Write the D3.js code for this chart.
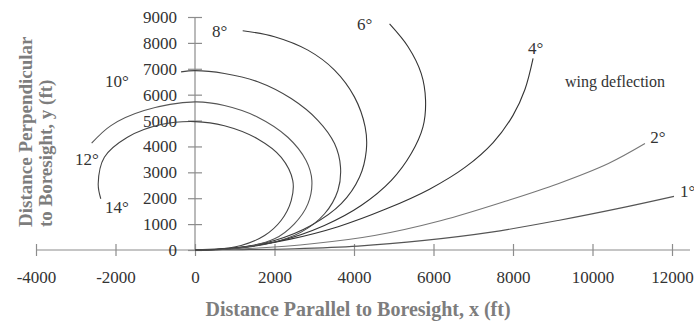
<!DOCTYPE html>
<html>
<head>
<meta charset="utf-8">
<script src="https://cdn.jsdelivr.net/npm/d3@7"></script>
<style>
  html, body { margin: 0; padding: 0; background: #fff; }
  svg { display: block; }
  text { font-family: "Liberation Serif", "Times New Roman", serif; }
</style>
</head>
<body>
<svg id="chart" width="694" height="325"></svg>
<script>
// ---- data ----
const xTicks = [-4000, -2000, 0, 2000, 4000, 6000, 8000, 10000, 12000];
const yTicks = [0, 1000, 2000, 3000, 4000, 5000, 6000, 7000, 8000, 9000];
const seriesNames = ["1°", "2°", "4°", "6°", "8°", "10°", "12°", "14°"];

const curve1 = [[0,0],[1200,15],[2500,50],[4100,150],[5775,370],[7455,690],[9135,1140],[10815,1655],[12050,2070]];
const curve2 = [[0,0],[1500,70],[3000,250],[4515,560],[6200,1140],[7875,1915],[9135,2560],[10400,3340],[11320,4110]];
const curve4 = [[0,0],[1200,110],[2400,420],[3600,900],[4800,1580],[5900,2350],[6800,3200],[7500,4150],[8000,5200],[8300,6200],[8505,7400]];
const curve6 = [[0,0],[910,60],[2165,370],[3255,950],[4180,1720],[4940,2690],[5440,3725],[5735,4755],[5800,5790],[5690,6820],[5360,7850],[4895,8730]];
const curve8 = [[0,0],[910,60],[2000,370],[2920,950],[3680,1790],[4140,2820],[4310,3850],[4280,4755],[4010,5915],[3510,6950],[2840,7720],[2000,8240],[1200,8470]];
const curve10 = [[0,0],[740,30],[1830,240],[2670,690],[3260,1400],[3595,2300],[3660,3210],[3510,4110],[3090,5010],[2420,5850],[1580,6500],[740,6820],[0,6930],[-350,6880]];
const curve12 = [[0,0],[1160,85],[2000,430],[2500,1010],[2840,1780],[2940,2680],[2795,3455],[2335,4355],[1580,5130],[740,5580],[0,5720],[-1280,5385],[-2115,4805],[-2600,4125]];
const curve14 = [[0,0],[400,10],[1160,175],[1750,560],[2165,1140],[2420,1910],[2460,2680],[2170,3580],[1580,4290],[740,4800],[0,4960],[-856,4845],[-1700,4355],[-2280,3580],[-2435,2555],[-2370,1980]];
const seriesValues = [curve1, curve2, curve4, curve6, curve8, curve10, curve12, curve14];

const xTitle = "Distance Parallel to Boresight, x (ft)";
const yTitleLines = ["Distance Perpendicular", "to Boresight, y (ft)"];
const noteText = "wing deflection";

// label anchors (data units) for the series labels and note
const labelAnchors = [[12200,2050],[11450,4130],[8380,7570],[4075,8490],[428,8220],[-2265,6290],[-3020,3280],[-2265,1430]];
const noteAnchor = [9310, 6290];

// ---- drawing ----
const svg = d3.select("#chart");
const x = d3.scaleLinear().domain([-4000, 12000]).range([36, 672]);
const y = d3.scaleLinear().domain([0, 9000]).range([250, 17]);

const axisColor = "#8c8c8c";
const textColor = "#333";
const fmt = d => String(d);

// x axis
const gx = svg.append("g").attr("transform", `translate(0,${y(0)})`)
  .call(d3.axisBottom(x).tickValues(xTicks).tickSizeInner(6).tickSizeOuter(0).tickFormat(fmt));
gx.select(".domain").remove();
gx.append("line").attr("x1", x(-4000)).attr("x2", x(12000) + 18).attr("y1", 0).attr("y2", 0)
  .attr("stroke", axisColor).attr("stroke-width", 1.2);
gx.selectAll(".tick line").attr("y1", -6).attr("stroke", axisColor).attr("stroke-width", 1.2);
gx.selectAll(".tick text").attr("y", 33).attr("dy", 0)
  .attr("font-size", 17).attr("fill", textColor)
  .style("font-family", "'Liberation Serif', 'Times New Roman', serif");

// y axis
const gy = svg.append("g").attr("transform", `translate(${x(0)},0)`)
  .call(d3.axisLeft(y).tickValues(yTicks).tickSizeInner(7).tickSizeOuter(0).tickFormat(fmt));
gy.select(".domain").remove();
gy.append("line").attr("x1", 0).attr("x2", 0).attr("y1", y(9000)).attr("y2", y(0))
  .attr("stroke", axisColor).attr("stroke-width", 1.2);
gy.selectAll(".tick line").attr("x1", 7).attr("stroke", axisColor).attr("stroke-width", 1.2);
gy.selectAll(".tick text").attr("x", -18).attr("dy", "0.32em")
  .attr("font-size", 17).attr("fill", textColor)
  .style("font-family", "'Liberation Serif', 'Times New Roman', serif");

// curves
const line = d3.line().x(d => x(d[0])).y(d => y(d[1])).curve(d3.curveCatmullRom.alpha(0.5));
const strokeColors = ["#555", "#777", "#333", "#333", "#3a3a3a", "#444", "#555", "#444"];
svg.append("g").selectAll("path").data(seriesValues).join("path")
  .attr("d", line).attr("fill", "none")
  .attr("stroke", (d, i) => strokeColors[i]).attr("stroke-width", 1.1);

// series labels
svg.append("g").selectAll("text").data(seriesNames).join("text")
  .attr("x", (d, i) => x(labelAnchors[i][0]))
  .attr("y", (d, i) => y(labelAnchors[i][1]))
  .attr("font-size", 17).attr("fill", textColor)
  .text(d => d);

svg.append("text").attr("x", x(noteAnchor[0])).attr("y", y(noteAnchor[1]))
  .attr("font-size", 16).attr("fill", textColor).text(noteText);

// axis titles
svg.append("text").attr("x", 358).attr("y", 316).attr("text-anchor", "middle")
  .attr("font-size", 20).attr("font-weight", "bold").attr("fill", "#7d7d7d")
  .text(xTitle);

svg.append("g").selectAll("text").data(yTitleLines).join("text")
  .attr("transform", (d, i) => `translate(${32 + i * 20},227) rotate(-90)`)
  .attr("text-anchor", "start")
  .attr("font-size", 19).attr("font-weight", "bold").attr("fill", "#7d7d7d")
  .text(d => d);
</script>
</body>
</html>
